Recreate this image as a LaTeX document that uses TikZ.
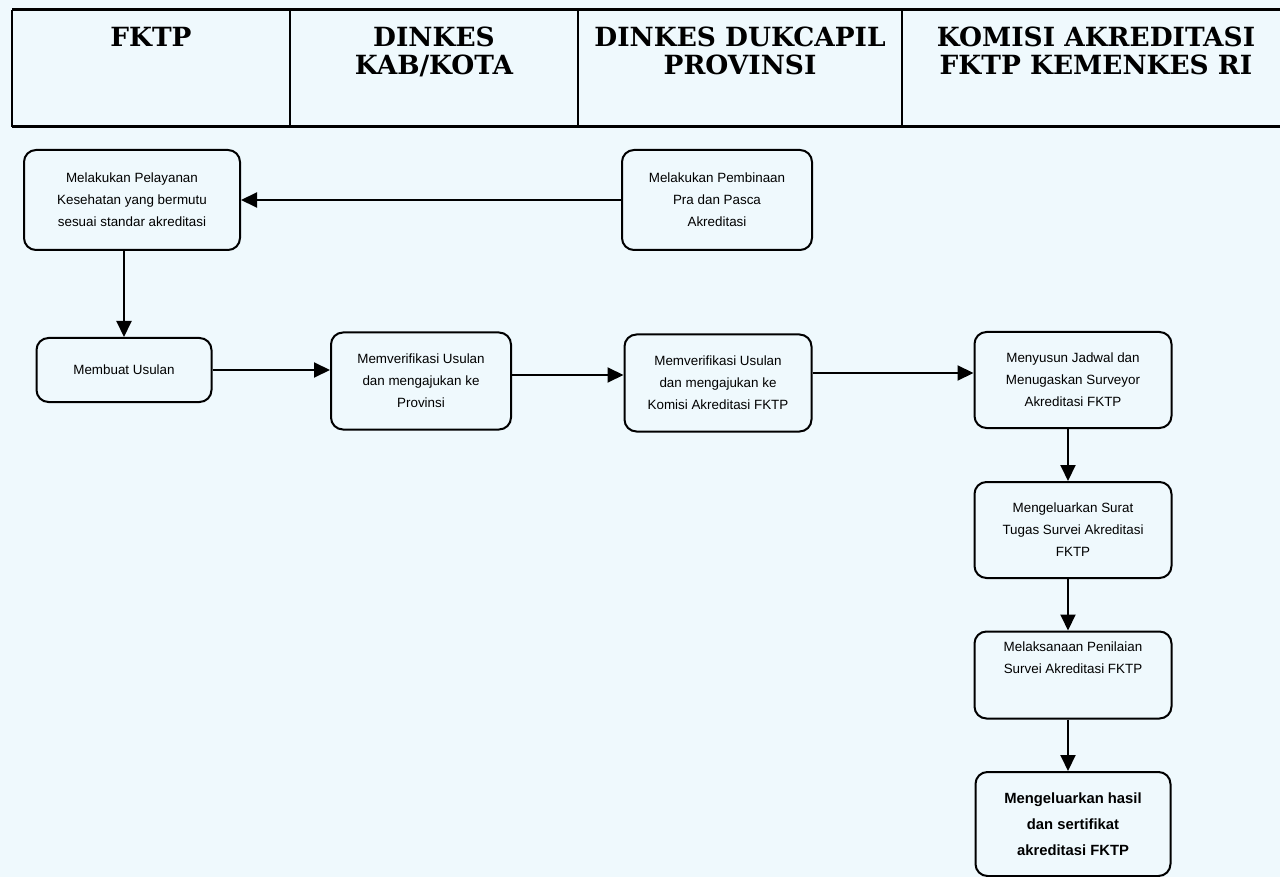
\documentclass[tikz,border=0pt]{standalone}
\usepackage{fontspec}
\setmainfont{Liberation Sans}
\newfontfamily\headfont{DejaVu Serif}
\usetikzlibrary{arrows.meta,positioning}
\definecolor{paper}{RGB}{239,249,253}

\begin{document}
\begin{tikzpicture}[x=0.5pt, y=-0.5pt, line width=1pt,
	box/.style={draw, rounded corners=6pt, align=center, inner sep=2pt, font=\fontsize{6.7}{11}\selectfont},
	lane/.style={anchor=north, align=center, inner sep=0pt, font=\headfont\bfseries\fontsize{13.2}{14}\selectfont},
	flow/.style={-{Triangle[length=8pt, width=7.5pt]}}]
	\useasboundingbox[fill=paper] (0,0) rectangle (1280,877);

	% header lanes
	\draw[line width=1.5pt] (12,10) -- (1280,10);
	\draw[line width=1.5pt] (12,127) -- (1280,127);
	\draw[line width=0.8pt] (12,10) -- (12,127);
	\foreach \x in {290,578,902}
		\draw[line width=0.8pt] (\x,10) -- (\x,127);
	\node (fktp) [lane] at (151,26) {FKTP};
	\node (kab) [lane] at (434,26) {DINKES\\KAB/KOTA};
	\node (prov) [lane] at (740,26) {DINKES DUKCAPIL\\PROVINSI};
	\node (komisi) [lane] at (1096,26) {KOMISI AKREDITASI\\FKTP KEMENKES RI};

	% steps
	\node (layan) [box, minimum width=108pt, minimum height=50pt] at (132,200) {Melakukan Pelayanan\\Kesehatan yang bermutu\\sesuai standar akreditasi};
	\node (bina) [box, minimum width=95pt, minimum height=50pt] at (717,200) {Melakukan Pembinaan\\Pra dan Pasca\\Akreditasi};
	\node (usul) [box, minimum width=87.5pt, minimum height=32pt] at (124,370) {Membuat Usulan};
	\node (verkab) [box, minimum width=90pt, minimum height=48.5pt] at (421,381) {Memverifikasi Usulan\\dan mengajukan ke\\Provinsi};
	\node (verprov) [box, minimum width=93.5pt, minimum height=48.5pt] at (718,383) {Memverifikasi Usulan\\dan mengajukan ke\\Komisi Akreditasi FKTP};
	\node (jadwal) [box, minimum width=98.5pt, minimum height=48pt] at (1073,380) {Menyusun Jadwal dan\\Menugaskan Surveyor\\Akreditasi FKTP};
	\node (surat) [box, minimum width=98.5pt, minimum height=48pt] at (1073,530) {Mengeluarkan Surat\\Tugas Survei Akreditasi\\FKTP};
	\node (nilai) [box, minimum width=98.5pt, minimum height=43.5pt] at (1073,675) {Melaksanaan Penilaian\\Survei Akreditasi FKTP\\[6pt]};
	\node (hasil) [box, minimum width=97.5pt, minimum height=52pt, font=\bfseries\fontsize{7.4}{13}\selectfont] at (1073,824) {Mengeluarkan hasil\\dan sertifikat\\akreditasi FKTP};

	% connectors
	\draw[flow] (bina.west) -- (layan.east);
	\draw[flow] (layan.south -| usul) -- (usul.north);
	\draw[flow] (usul.east) -- (usul.east -| verkab.west);
	\draw[flow] ([yshift=3pt]verkab.east) -- ([yshift=3pt]verkab.east -| verprov.west);
	\draw[flow] ([yshift=5pt]verprov.east) -- ([yshift=5pt]verprov.east -| jadwal.west);
	\draw[flow] ([xshift=-2.5pt]jadwal.south) -- ([xshift=-2.5pt]surat.north);
	\draw[flow] ([xshift=-2.5pt]surat.south) -- ([xshift=-2.5pt]nilai.north);
	\draw[flow] ([xshift=-2.5pt]nilai.south) -- ([xshift=-2.5pt]hasil.north);
\end{tikzpicture}
\end{document}
